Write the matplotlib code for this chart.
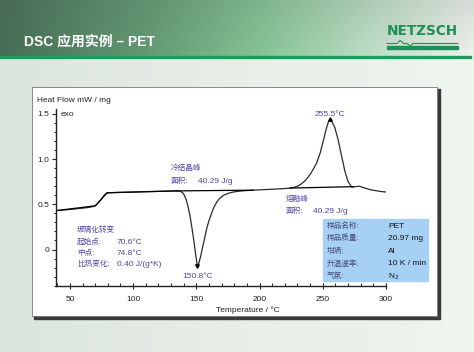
import numpy as np
import matplotlib.pyplot as plt
from matplotlib.patches import Rectangle
from matplotlib.lines import Line2D
from matplotlib.ticker import MultipleLocator

W, H = 474, 352

# DSC curve of PET
temp = [39, 45, 50, 55, 60, 65, 68, 70, 71.5, 73, 74.8, 76.5, 78, 79.5, 85,
        90, 100, 110, 120, 130, 135, 137, 139, 140.5, 142, 143.5, 145, 146.5,
        148, 149.5, 150.8, 152, 153.5, 155, 156.5, 158, 160, 162, 164, 166,
        168, 171, 174, 178, 182, 188, 195, 205, 215, 222, 226, 230, 233, 236,
        240, 243, 245.2, 248, 250.4, 252.5, 254.4, 255.5, 257, 259.5, 262.2,
        264.8, 267.4, 270, 272.9, 276, 279, 283, 288, 294, 300]
heat_flow = [0.43, 0.437, 0.443, 0.45, 0.457, 0.466, 0.474, 0.483, 0.50, 0.525,
             0.555, 0.59, 0.612, 0.627, 0.630, 0.632, 0.636, 0.640, 0.643,
             0.647, 0.648, 0.645, 0.63, 0.60, 0.55, 0.47, 0.37, 0.24, 0.10,
             -0.06, -0.18, -0.15, -0.07, 0.03, 0.12, 0.22, 0.32, 0.40, 0.47,
             0.52, 0.56, 0.595, 0.615, 0.632, 0.642, 0.650, 0.656, 0.663,
             0.670, 0.676, 0.682, 0.70, 0.725, 0.76, 0.83, 0.90, 0.96, 1.07,
             1.20, 1.32, 1.41, 1.44, 1.42, 1.35, 1.21, 1.04, 0.87, 0.75, 0.69,
             0.695, 0.70, 0.68, 0.66, 0.645, 0.635]

# integration baselines / glass transition tangents
cryst_base_t = [135, 195]
cryst_base_hf = [0.648, 0.656]
melt_base_t = [224, 274]
melt_base_hf = [0.679, 0.695]
glass_t = [39, 70, 79.5, 135]
glass_hf = [0.43, 0.483, 0.627, 0.648]

cryst_peak = (150.8, -0.18)
melt_peak = (255.5, 1.44)

x_ticks = [50, 100, 150, 200, 250, 300]
y_ticks = [0, 0.5, 1.0, 1.5]
y_tick_labels = ['0', '0.5', '1.0', '1.5']

info_keys = ['样品名称:', '样品质量:', '坩埚:', '升温速率:', '气氛:']
info_vals = ['PET', '20.97 mg', 'Al', '10 K / min', r'N$_2$']

glass_keys = ['起始点:', '中点:', '比热变化:']
glass_vals = ['70.6°C', '74.8°C', '0.40 J/(g*K)']

FONT = ['Liberation Sans', 'Noto Sans CJK SC', 'DejaVu Sans']
plt.rcParams['font.family'] = FONT
ANN = '#4b48a6'


def fx(px):
    return px / W


def fy(py):
    return 1 - py / H


fig = plt.figure(figsize=(W / 100, H / 100), dpi=100)

# background: green header gradient + pale body
bg = fig.add_axes([0, 0, 1, 1])
bg.axis('off')
bg.set_zorder(-10)
xs = np.linspace(0, 1, W)
stops = [0, 0.3, 0.55, 0.8, 1.0]
head = np.array([[0.27, 0.43, 0.33], [0.38, 0.60, 0.45], [0.52, 0.77, 0.58],
                 [0.76, 0.88, 0.79], [0.93, 0.95, 0.93]])
body = np.array([[0.86, 0.90, 0.86], [0.89, 0.92, 0.89], [0.91, 0.94, 0.91],
                 [0.92, 0.95, 0.92], [0.94, 0.96, 0.94]])
img = np.zeros((H, W, 3))
hrow = np.stack([np.interp(xs, stops, head[:, c]) for c in range(3)], axis=1)
brow = np.stack([np.interp(xs, stops, body[:, c]) for c in range(3)], axis=1)
for r in range(H):
    if r < 56:
        k = 0.85 + 0.15 * r / 56
        img[r] = np.clip(hrow * k + (1 - k) * 0.35, 0, 1)
    else:
        img[r] = brow
bg.imshow(img, extent=[0, 1, 0, 1], aspect='auto')
bg.set_xlim(0, 1)
bg.set_ylim(0, 1)

# green rule under the header
fig.add_artist(Line2D([0, fx(470)], [fy(57), fy(57)], color='#1e9b5c', lw=2.4,
                      transform=fig.transFigure))

fig.text(fx(24), fy(42), 'DSC 应用实例 – PET', color='white', fontsize=10,
         fontweight='bold', va='center', ha='left')

# NETZSCH logo
fig.text(fx(387), fy(31), 'NETZSCH', color='#1d8f57', fontsize=9.8,
         fontweight='bold', va='center', ha='left', family='DejaVu Sans')
fig.add_artist(Line2D([fx(387), fx(397), fx(400), fx(404), fx(407), fx(410), fx(413), fx(458)],
                      [fy(43.5), fy(43.5), fy(40.5), fy(43.5), fy(43.5), fy(46), fy(43.5), fy(43.5)],
                      color='#1d8f57', lw=0.8, transform=fig.transFigure))
fig.add_artist(Rectangle((fx(387), fy(48.5)), fx(71), 2 / H, color='#1d8f57',
                         transform=fig.transFigure))

# white panel with shadow
fig.add_artist(Rectangle((fx(34), fy(319)), fx(406), 230 / H, color='#3a3a3a',
                         transform=fig.transFigure, zorder=0.5))
fig.add_artist(Rectangle((fx(32), fy(316)), fx(405), 229 / H, facecolor='white',
                         edgecolor='#777777', lw=0.6, transform=fig.transFigure,
                         zorder=0.6))

ax = fig.add_axes([fx(56), fy(285.7), fx(330), (285.7 - 109.3) / H])
ax.set_zorder(2)
ax.patch.set_alpha(0)
ax.plot(temp, heat_flow, color='#2a2a2a', lw=0.9)
ax.plot(glass_t, glass_hf, color='black', lw=0.9)
ax.plot(cryst_base_t, cryst_base_hf, color='black', lw=0.9)
ax.plot(melt_base_t, melt_base_hf, color='black', lw=0.9)
ax.plot(*cryst_peak, marker='v', ms=2.5, color='black')
ax.plot(*melt_peak, marker='^', ms=2.5, color='black')

ax.set_xlim(39, 300)
ax.set_ylim(-0.40, 1.55)
for s in ['top', 'right']:
    ax.spines[s].set_visible(False)
for s in ['left', 'bottom']:
    ax.spines[s].set_linewidth(1.0)
    ax.spines[s].set_color('#222222')
ax.set_xticks(x_ticks)
ax.set_yticks(y_ticks)
ax.set_yticklabels(y_tick_labels)
ax.xaxis.set_minor_locator(MultipleLocator(10))
ax.yaxis.set_minor_locator(MultipleLocator(0.1))
ax.tick_params(axis='x', which='major', direction='inout', length=5, width=0.8,
               labelsize=6, pad=5, colors='#222222')
ax.tick_params(axis='x', which='minor', direction='in', length=2.5, width=0.6)
ax.tick_params(axis='y', which='major', direction='out', length=3, width=0.8,
               labelsize=6, pad=2, colors='#222222')
ax.tick_params(axis='y', which='minor', direction='out', length=1.5, width=0.6)

fig.text(fx(37), fy(100.5), 'Heat Flow mW / mg', fontsize=6, va='center', color='#222222')
fig.text(fx(61), fy(115), 'exo', fontsize=6, va='center', color='#222222')
fig.text(fx(248), fy(310), 'Temperature / °C', fontsize=6, ha='center', va='center',
         color='#222222')

# peak labels
ax.annotate('150.8°C', cryst_peak, xytext=(0, -8), textcoords='offset points',
            ha='center', va='center', fontsize=6, color=ANN)
ax.annotate('255.5°C', melt_peak, xytext=(0, 3.5), textcoords='offset points',
            ha='center', va='center', fontsize=6, color=ANN)

# cold crystallisation
fig.text(fx(171), fy(168), '冷结晶峰', fontsize=5.5, va='center', color=ANN)
fig.text(fx(171), fy(181.5), '面积:', fontsize=5.5, va='center', color=ANN)
fig.text(fx(198), fy(181.5), '40.29 J/g', fontsize=6, va='center', color=ANN)

# melting
fig.text(fx(286), fy(199.5), '熔融峰', fontsize=5.5, va='center', color=ANN)
fig.text(fx(286), fy(211.5), '面积:', fontsize=5.5, va='center', color=ANN)
fig.text(fx(313), fy(211.5), '40.29 J/g', fontsize=6, va='center', color=ANN)

# glass transition
fig.text(fx(77), fy(230.5), '玻璃化转变', fontsize=5.5, va='center', color=ANN)
for i, (k, v) in enumerate(zip(glass_keys, glass_vals)):
    y = 242 + i * 11.3
    fig.text(fx(77), fy(y), k, fontsize=5.5, va='center', color=ANN)
    fig.text(fx(117), fy(y), v, fontsize=6, va='center', color=ANN)

# sample info box
fig.add_artist(Rectangle((fx(323), fy(281)), fx(105), 62 / H, color='#a6d0f4',
                         transform=fig.transFigure, zorder=1))
for i, (k, v) in enumerate(zip(info_keys, info_vals)):
    y = 226 + i * 12.6
    fig.text(fx(327), fy(y), k, fontsize=5.5, va='center', color='#4a4a7a')
    fig.text(fx(388), fy(y), v, fontsize=6, va='center', color='#111111')

fig.savefig('out.png', dpi=100)
